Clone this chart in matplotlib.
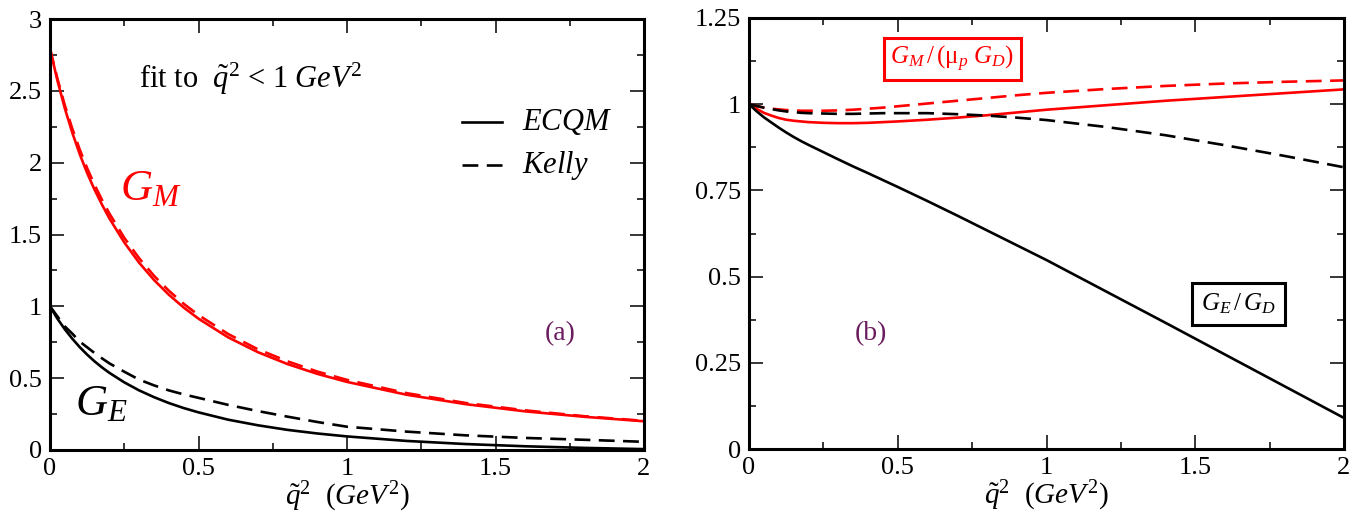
import matplotlib
matplotlib.use("Agg")
import matplotlib.pyplot as plt
from matplotlib.ticker import MultipleLocator, FuncFormatter

plt.rcParams['font.family'] = ['Liberation Serif', 'DejaVu Serif']
plt.rcParams['mathtext.fontset'] = 'custom'
plt.rcParams['mathtext.rm'] = 'Liberation Serif'
plt.rcParams['mathtext.it'] = 'Liberation Serif:italic'
plt.rcParams['mathtext.bf'] = 'Liberation Serif:bold'

# ---- data ----
q2 = [0.0, 0.025, 0.05, 0.075, 0.1, 0.125, 0.15, 0.175, 0.2, 0.25, 0.3, 0.35, 0.4, 0.45,
      0.5, 0.6, 0.7, 0.8, 0.9, 1.0, 1.2, 1.4, 1.6, 1.8, 2.0]

# panel (a)
gm_ecqm = [2.793, 2.572, 2.377, 2.209, 2.060, 1.928, 1.812, 1.708, 1.612, 1.445, 1.304,
           1.184, 1.081, 0.992, 0.914, 0.784, 0.681, 0.598, 0.530, 0.474, 0.385, 0.319,
           0.269, 0.231, 0.200]
gm_kelly = [2.793, 2.585, 2.399, 2.237, 2.092, 1.962, 1.846, 1.741, 1.646, 1.477, 1.335,
            1.213, 1.109, 1.018, 0.939, 0.807, 0.701, 0.617, 0.546, 0.488, 0.396, 0.327,
            0.276, 0.235, 0.203]
ge_ecqm = [1.0, 0.914, 0.840, 0.775, 0.716, 0.664, 0.617, 0.575, 0.537, 0.471, 0.415,
           0.368, 0.327, 0.292, 0.262, 0.211, 0.172, 0.140, 0.115, 0.0945, 0.0632,
           0.0414, 0.0259, 0.0146, 0.0062]
ge_kelly = [1.0, 0.930, 0.860, 0.810, 0.755, 0.715, 0.675, 0.638, 0.603, 0.545, 0.490,
            0.450, 0.415, 0.387, 0.363, 0.314, 0.271, 0.232, 0.195, 0.162, 0.128, 0.102,
            0.084, 0.071, 0.057]

# panel (b)
gmr_ecqm = [1.0, 0.987, 0.975, 0.967, 0.960, 0.955, 0.952, 0.950, 0.948, 0.946, 0.945,
            0.945, 0.946, 0.948, 0.950, 0.955, 0.961, 0.968, 0.976, 0.984, 0.997, 1.010,
            1.021, 1.032, 1.043]
gmr_kelly = [1.0, 0.995, 0.990, 0.987, 0.985, 0.983, 0.982, 0.981, 0.981, 0.981, 0.982,
             0.984, 0.987, 0.990, 0.994, 1.002, 1.010, 1.018, 1.026, 1.033, 1.044, 1.053,
             1.060, 1.065, 1.069]
ger_ecqm = [1.0, 0.980, 0.962, 0.947, 0.932, 0.918, 0.905, 0.893, 0.882, 0.861, 0.840,
            0.8195, 0.800, 0.780, 0.760, 0.719, 0.677, 0.634, 0.591, 0.548, 0.457, 0.366,
            0.274, 0.182, 0.090]
ger_kelly = [1.0, 0.995, 0.990, 0.986, 0.982, 0.979, 0.977, 0.975, 0.974, 0.973, 0.972,
             0.972, 0.973, 0.974, 0.974, 0.974, 0.971, 0.967, 0.961, 0.954, 0.934, 0.910,
             0.881, 0.850, 0.817]

legend_labels = ['ECQM', 'Kelly']

RED = '#ff0000'
PURPLE = '#6b1d5e'
LW = 1.9
DASH = (0, (6, 3.2))

fig = plt.figure(figsize=(13.7, 5.2), dpi=100)
axA = fig.add_axes([50/1370, 70/520, 594/1370, 431/520])
axB = fig.add_axes([749/1370, 71/520, 595/1370, 431/520])


def fmt(v, pos):
    return ('%.3f' % v).rstrip('0').rstrip('.')


def style(ax, ymax, ymaj, ymin):
    ax.set_xlim(0, 2)
    ax.set_ylim(0, ymax)
    ax.xaxis.set_major_locator(MultipleLocator(0.5))
    ax.xaxis.set_minor_locator(MultipleLocator(0.25))
    ax.yaxis.set_major_locator(MultipleLocator(ymaj))
    ax.yaxis.set_minor_locator(MultipleLocator(ymin))
    ax.xaxis.set_major_formatter(FuncFormatter(fmt))
    ax.yaxis.set_major_formatter(FuncFormatter(fmt))
    ax.tick_params(which='both', direction='in', top=True, right=True,
                   labelsize=19, width=1.1)
    ax.tick_params(which='major', length=10, pad=6)
    ax.tick_params(which='minor', length=5)
    for s in ax.spines.values():
        s.set_linewidth(2.2)
    ax.set_xlabel(r'$\tilde{q}^{2}$  $(GeV^{2})$', fontsize=21, labelpad=0)


# ---- panel (a) ----
ax = axA
ax.plot(q2, gm_ecqm, color=RED, lw=LW)
ax.plot(q2, gm_kelly, color=RED, lw=LW, linestyle=DASH)
ax.plot(q2, ge_ecqm, color='black', lw=LW)
ax.plot(q2, ge_kelly, color='black', lw=LW, linestyle=DASH)
style(ax, 3, 0.5, 0.25)

ax.text(0.30, 2.52, r'fit to  $\tilde{q}^{2}$ < $1\ GeV^{2}$', fontsize=22)
ax.text(0.236, 1.74, r'$G_{M}$', color=RED, fontsize=32)
ax.text(0.084, 0.244, r'$G_{E}$', color='black', fontsize=32)
ax.text(1.667, 0.766, '(a)', color=PURPLE, fontsize=20)

# legend drawn in axes coordinates
for i, (lab, ls) in enumerate(zip(legend_labels, ['-', DASH])):
    yy = 1 - (122 + 43 * i - 19) / 431
    ax.plot([(462 - 50) / 594, (502 - 50) / 594], [yy, yy], transform=ax.transAxes,
            color='black', lw=LW, linestyle=ls)
    ax.text((522 - 50) / 594, yy, r'$%s$' % lab, transform=ax.transAxes,
            fontsize=22, va='center', ha='left')

# ---- panel (b) ----
ax = axB
ax.plot(q2, gmr_ecqm, color=RED, lw=LW)
ax.plot(q2, gmr_kelly, color=RED, lw=LW, linestyle=DASH)
ax.plot(q2, ger_ecqm, color='black', lw=LW)
ax.plot(q2, ger_kelly, color='black', lw=LW, linestyle=DASH)
style(ax, 1.25, 0.25, 0.125)

ax.text(0.475, 1.131, r'$G_{M}\,/\,(\mathrm{\mu}_{p}\ G_{D})$', color=RED, fontsize=18,
        va='center', ha='left',
        bbox=dict(boxstyle='square,pad=0.25', fc='white', ec=RED, lw=2.2))
ax.text(1.52, 0.42, r'$G_{E}\,/\,G_{D}$', color='black', fontsize=18,
        va='center', ha='left',
        bbox=dict(boxstyle='square,pad=0.35', fc='white', ec='black', lw=2.2))
ax.text(0.356, 0.316, '(b)', color=PURPLE, fontsize=20)

fig.savefig('out.png', dpi=100)
